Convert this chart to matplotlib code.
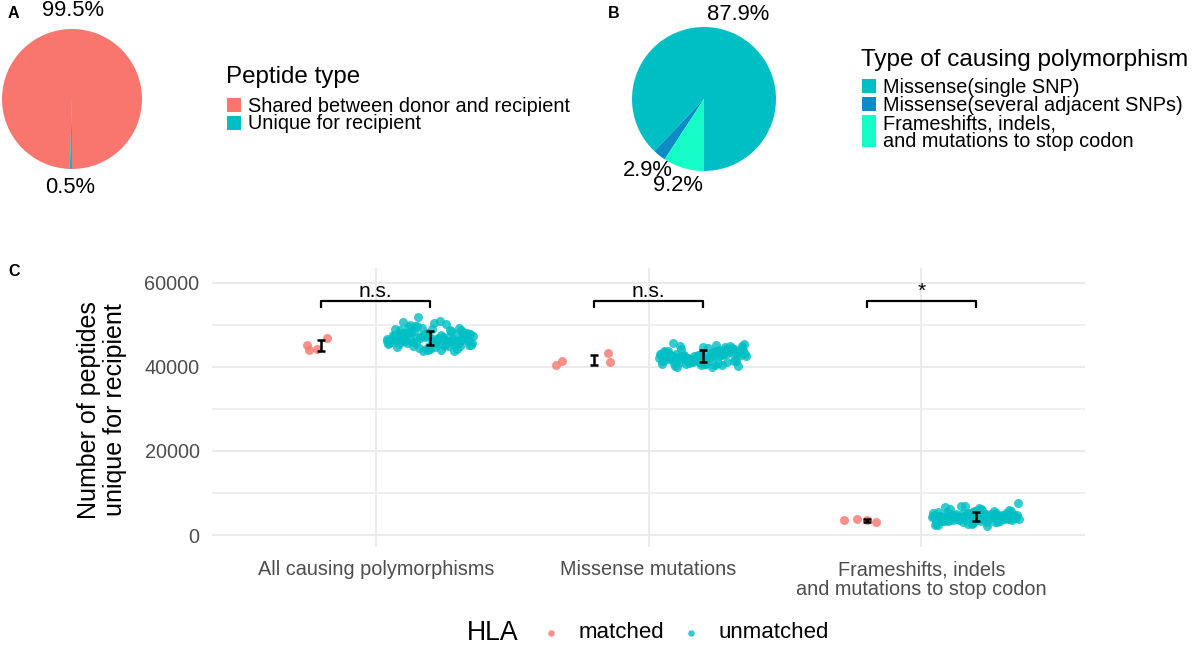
#chart recreation: pie A, pie B, jitter plot C
import numpy as np
import matplotlib
matplotlib.use("Agg")
import matplotlib.pyplot as plt
from matplotlib.patches import Rectangle

plt.rcParams['font.family'] = ['Liberation Sans', 'DejaVu Sans']

W, H = 1195, 645

#panel A data
peptideTypes = ["Shared between donor and recipient", "Unique for recipient"]
peptideShares = [99.5, 0.5]
peptideColors = ["#F8766D", "#00BFC4"]

#panel B data
polyTypes = ["Missense(single SNP)", "Missense(several adjacent SNPs)",
             "Frameshifts, indels,\nand mutations to stop codon"]
polyShares = [87.9, 2.9, 9.2]
polyColors = ["#00BFC4", "#0B8CC4", "#16FCC6"]

#panel C data
groups = ["All causing polymorphisms", "Missense mutations",
          "Frameshifts, indels\nand mutations to stop codon"]
hlaLevels = ["matched", "unmatched"]
hlaColors = ["#F8766D", "#00BFC4"]

matchedAll = [45240, 44050, 44290, 46900]
matchedMis = [40480, 41430, 43330, 41190]
matchedFs = [3570, 3810, 3500, 3100]
#jitter of the matched points (in category units)
jitMatched = [[-0.05, -0.045, -0.015, 0.02],
              [-0.139, -0.117, 0.051, 0.059],
              [-0.084, -0.037, 0.0, 0.033]]

unmatchedAll = [46200, 47500, 45800, 48900, 44100, 46700, 47100, 49800, 45300, 46000,
                48200, 47800, 43800, 46500, 45100, 50100, 47300, 46900, 44700, 48500,
                52000, 45600, 47000, 46300, 49200, 44400, 47700, 46100, 45900, 48000,
                50400, 46600, 43700, 47400, 45400, 46800, 49500, 47200, 44900, 46400,
                48700, 45700, 47900, 46200, 50800, 44200, 47600, 46000, 45200, 48300,
                47000, 49000, 45500, 46700, 44600, 47300, 51000, 46500, 45000, 48100,
                47400, 45900, 48600, 46300, 44800, 47800, 46100, 49300, 45600, 47100,
                46600, 48400, 44300, 47500, 46000, 49700, 45300, 46900, 48100, 45800,
                47200, 46400, 50200, 44900, 47600, 46200, 48800, 45500, 47000, 46700,
                44000, 48000, 46500, 47300, 49100, 45100, 46800, 47900, 45700, 46300]
unmatchedMis = [42100, 43500, 41200, 44300, 40500, 42800, 43100, 41700, 44900, 42400,
                40200, 43800, 42000, 41500, 45300, 42600, 43300, 40800, 42900, 44100,
                41900, 43000, 39900, 42300, 44600, 41300, 43600, 42700, 40700, 43900,
                42200, 45700, 41100, 42500, 43200, 40400, 44400, 42000, 41600, 43400,
                42800, 40900, 44000, 42400, 41800, 45100, 42600, 43700, 41000, 42900,
                40300, 43100, 42200, 44700, 41400, 42700, 43500, 41900, 44200, 42500,
                42300, 43900, 41600, 42800, 44500, 41000, 43300, 42100, 40600, 43700,
                42600, 41400, 44800, 42000, 43000, 41800, 45500, 42400, 40100, 43600,
                42900, 41700, 44100, 42200, 43400, 40800, 42700, 44300, 41200, 43100,
                42500, 45000, 41500, 42800, 43800, 40500, 42100, 44600, 41900, 43200]
unmatchedFs = [4200, 5100, 3600, 4800, 2900, 4500, 5600, 3900, 4300, 6100,
               3400, 4700, 5300, 2500, 4100, 4900, 3800, 5800, 4400, 3200,
               4600, 7600, 3700, 5000, 4000, 2700, 5400, 4300, 3500, 4800,
               6400, 4100, 3300, 5200, 4500, 2200, 4700, 3900, 5500, 4200,
               3000, 4900, 4400, 6000, 3600, 4600, 5100, 2800, 4300, 3800,
               5700, 4000, 3400, 4500, 6800, 3700, 4800, 4200, 5300, 3100,
               4300, 5000, 3900, 4600, 3300, 5400, 4100, 2600, 4800, 3700,
               4400, 5900, 3500, 4200, 5200, 3000, 4700, 4000, 6200, 3800,
               4500, 2400, 5100, 4300, 3600, 4900, 6600, 3900, 4100, 5300,
               3200, 4600, 4400, 5600, 3400, 4800, 7000, 4000, 3700, 5000]

matchedVals = [matchedAll, matchedMis, matchedFs]
unmatchedVals = [unmatchedAll, unmatchedMis, unmatchedFs]
signif = ["n.s.", "n.s.", "*"]
bracketTop = 55700
bracketTip = 54000
signifY = 56700

fig = plt.figure(figsize=(W / 100, H / 100), dpi=100)


def px_rect(left, top, width, height):
    return [left / W, (H - top - height) / H, width / W, height / H]


def draw_pie(rect, shares, colors):
    ax = fig.add_axes(rect)
    wedges, _ = ax.pie(shares, colors=colors, startangle=-90, counterclock=True,
                       radius=1, wedgeprops=dict(linewidth=0))
    ax.set_xlim(-1, 1)
    ax.set_ylim(-1, 1)
    for w, s in zip(wedges, shares):
        mid = np.radians((w.theta1 + w.theta2) / 2)
        ax.text(1.26 * np.cos(mid), 1.26 * np.sin(mid), f"{s}%", ha="center",
                va="center", fontsize=15.8, clip_on=False)
    return ax


draw_pie(px_rect(2, 29, 140, 140), peptideShares, peptideColors)
draw_pie(px_rect(632, 27, 144, 144), polyShares, polyColors)

#panel C
ax = fig.add_axes(px_rect(212, 268, 873, 279))
for i in range(3):
    for k, (vals, col) in enumerate(zip([matchedVals[i], unmatchedVals[i]], hlaColors)):
        vals = np.array(vals, dtype=float)
        pos = i + 1 + (-0.2 if k == 0 else 0.2)
        if k == 0:
            jit = np.array(jitMatched[i])
        else:
            jit = ((np.arange(len(vals)) * 0.618034) % 1 - 0.5) * 0.32
        ax.scatter(pos + jit, vals, s=42, color=col, alpha=0.8, linewidths=0, zorder=3)
        ax.errorbar(pos, vals.mean(), yerr=vals.std(ddof=1), fmt="none", ecolor="black",
                    elinewidth=1.8, capsize=2.8, capthick=1.8, zorder=4)
    #significance bracket
    x0, x1 = i + 1 - 0.2, i + 1 + 0.2
    ax.plot([x0, x0, x1, x1], [bracketTip, bracketTop, bracketTop, bracketTip],
            color="black", lw=1.6, zorder=5, solid_capstyle="butt")
    ax.text(i + 1, signifY, signif[i], ha="center", va="baseline", fontsize=15)

ax.set_xlim(0.4, 3.6)
ax.set_ylim(-2857, 63571)
ax.set_xticks([1, 2, 3], groups)
ax.set_yticks([0, 20000, 40000, 60000], ["0", "20000", "40000", "60000"])
ax.set_yticks([10000, 30000, 50000], minor=True)
ax.grid(which="major", color="#EBEBEB", lw=1.5)
ax.grid(which="minor", axis="y", color="#EBEBEB", lw=1.1)
ax.set_axisbelow(True)
ax.tick_params(which="both", length=0, labelsize=14.3, labelcolor="#4D4D4D")
ax.tick_params(axis="x", pad=9.5)
ax.tick_params(axis="y", pad=9)
for lab in ax.get_xticklabels():
    lab.set_linespacing(1.05)
for s in ax.spines.values():
    s.set_visible(False)

#overlay in pixel coordinates for legends and panel letters
ov = fig.add_axes([0, 0, 1, 1])
ov.set_xlim(0, W)
ov.set_ylim(H, 0)
ov.axis("off")

for letter, (x, y) in zip("ABC", [(8, 14), (608, 14), (8, 271)]):
    ov.text(x, y, letter, fontsize=11.5, fontweight="bold", ha="left", va="center")

ov.text(102, 410, "Number of peptides\nunique for recipient", rotation=90, ha="center",
        va="center", fontsize=18, linespacing=1.15)

#legend A
ov.text(226, 83, "Peptide type", fontsize=17.4, va="baseline")
for j, (lab, col) in enumerate(zip(peptideTypes, peptideColors)):
    top = 98 + j * 17.5
    ov.add_patch(Rectangle((227, top), 14, 14, color=col, lw=0))
    ov.text(248, top + 13.5, lab, fontsize=14.3, va="baseline")

#legend B
ov.text(861, 66, "Type of causing polymorphism", fontsize=17.5, va="baseline")
top = 79
for lab, col in zip(polyTypes, polyColors):
    lines = lab.split("\n")
    hgt = 14 + (len(lines) - 1) * 18
    ov.add_patch(Rectangle((862, top), 14, hgt, color=col, lw=0))
    for n, line in enumerate(lines):
        ov.text(883, top + 14 + n * 18, line, fontsize=14.3, va="baseline")
    top += hgt + 4

#HLA legend
ov.text(467, 633, "HLA", fontsize=19.2, va="center")
for lev, col, xd in zip(hlaLevels, hlaColors, [551, 691]):
    ov.scatter([xd], [633], s=22, color=col, alpha=0.8, linewidths=0)
    ov.text(xd + 28, 633, lev, fontsize=16, va="center")

fig.savefig("out.png", dpi=100)
